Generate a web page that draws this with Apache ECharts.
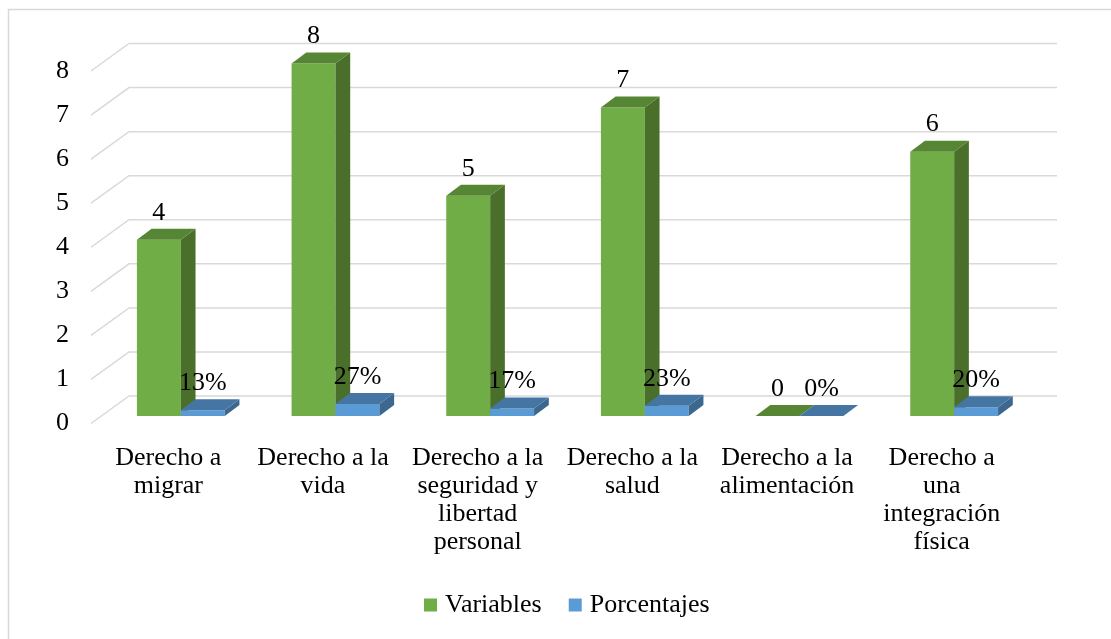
<!DOCTYPE html>
<html>
<head>
<meta charset="utf-8">
<script src="https://cdn.jsdelivr.net/npm/echarts@6/dist/echarts.min.js"></script>
<style>
html,body{margin:0;padding:0;background:#fff;}
#chart{width:1111px;height:639px;}
</style>
</head>
<body>
<div id="chart"></div>
<script>
const categories = [
  'Derecho a\nmigrar',
  'Derecho a la\nvida',
  'Derecho a la\nseguridad y\nlibertad\npersonal',
  'Derecho a la\nsalud',
  'Derecho a la\nalimentación',
  'Derecho a\nuna\nintegración\nfísica'
];
const variables = [4, 8, 5, 7, 0, 6];
const porcentajes = [0.13, 0.27, 0.17, 0.23, 0, 0.20];
const yTicks = [0, 1, 2, 3, 4, 5, 6, 7, 8];

const FONT = '"Liberation Serif", "Times New Roman", serif';
const FS = 26;
// oblique projection offsets (front plane = grid)
const BAR_SHIFT = [12.5, -7.5];
const BAR_DEPTH = [14.7, -11];
const BACK = [38, -27.5];
const BAR_W_RATIO = 0.284;

function barRenderer(slot, colors, fmt) {
  return function (params, api) {
    const cat = api.value(0), val = api.value(1);
    const top = api.coord([cat, val]);
    const base = api.coord([cat, 0]);
    const band = api.size([1, 0])[0];
    const w = band * BAR_W_RATIO;
    const x0 = top[0] + BAR_SHIFT[0] + slot * w;
    const yT = top[1] + BAR_SHIFT[1];
    const yB = base[1] + BAR_SHIFT[1];
    const dx = BAR_DEPTH[0], dy = BAR_DEPTH[1];
    return {
      type: 'group',
      children: [
        { type: 'rect', shape: { x: x0, y: yT, width: w, height: yB - yT }, style: { fill: colors[0] } },
        { type: 'polygon', shape: { points: [[x0 + w, yT], [x0 + w + dx, yT + dy], [x0 + w + dx, yB + dy], [x0 + w, yB]] }, style: { fill: colors[2] } },
        { type: 'polygon', shape: { points: [[x0, yT], [x0 + w, yT], [x0 + w + dx, yT + dy], [x0 + dx, yT + dy]] }, style: { fill: colors[1] } },
        { type: 'text', style: { text: fmt(val), x: x0 + w / 2, y: yT - 27, fill: '#000', fontSize: FS, fontFamily: FONT, align: 'center', verticalAlign: 'middle' } }
      ]
    };
  };
}

function gridRenderer(params, api) {
  const v = api.value(1);
  const p = api.coord([0, v]);
  const cs = params.coordSys;
  const y = p[1];
  return {
    type: 'polyline',
    shape: { points: [[cs.x, y], [cs.x + BACK[0], y + BACK[1]], [cs.x + cs.width + BACK[0], y + BACK[1]]] },
    style: { stroke: '#d9d9d9', lineWidth: 1.5, fill: null }
  };
}

const chart = echarts.init(document.getElementById('chart'));
chart.setOption({
  animation: false,
  backgroundColor: '#fff',
  graphic: [{
    type: 'rect', left: 6, top: 7, shape: { width: 1120, height: 650 },
    style: { fill: null, stroke: '#d9d9d9', lineWidth: 1.5 }, silent: true, z: -10
  }],
  grid: { left: 91, right: 92, top: 71, bottom: 215.5, containLabel: false },
  legend: {
    data: ['Variables', 'Porcentajes'],
    left: 424, top: 591, padding: 0,
    itemWidth: 13, itemHeight: 13, itemGap: 27, icon: 'rect',
    textStyle: { fontSize: FS, fontFamily: FONT, color: '#000', lineHeight: 28, padding: [0, 0, 0, 3] }
  },
  xAxis: {
    type: 'category',
    data: categories,
    axisLine: { show: false }, axisTick: { show: false }, splitLine: { show: false },
    axisLabel: { interval: 0, margin: 21, fontSize: FS, fontFamily: FONT, color: '#000', lineHeight: 28 }
  },
  yAxis: {
    type: 'value', min: 0, max: 8, interval: 1,
    axisLine: { show: false }, axisTick: { show: false }, splitLine: { show: false },
    axisLabel: { margin: 22, fontSize: FS, fontFamily: FONT, color: '#000', padding: [9, 0, 0, 0] }
  },
  series: [
    {
      type: 'custom', name: 'grid', silent: true, z: 1,
      renderItem: gridRenderer,
      data: yTicks.map(t => [0, t])
    },
    {
      type: 'custom', name: 'Variables', z: 2,
      itemStyle: { color: '#70AD47' },
      renderItem: barRenderer(-1, ['#70AD47', '#568634', '#4A6F2B'], v => String(v)),
      data: variables.map((v, i) => [i, v])
    },
    {
      type: 'custom', name: 'Porcentajes', z: 3,
      itemStyle: { color: '#5B9BD5' },
      renderItem: barRenderer(0, ['#5B9BD5', '#4576A3', '#3C6890'], v => Math.round(v * 100) + '%'),
      data: porcentajes.map((v, i) => [i, v])
    }
  ]
});
</script>
</body>
</html>
